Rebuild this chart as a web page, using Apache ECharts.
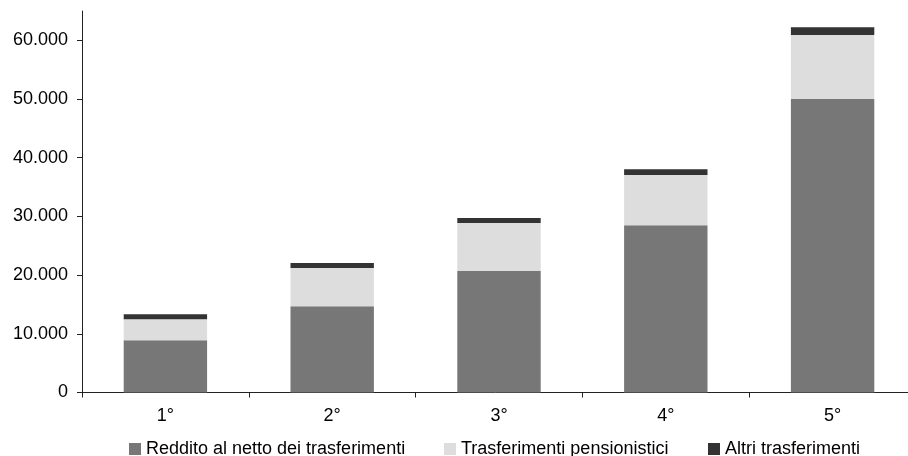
<!DOCTYPE html>
<html>
<head>
<meta charset="utf-8">
<script src="https://cdn.jsdelivr.net/npm/echarts@6/dist/echarts.min.js"></script>
<style>
html,body{margin:0;padding:0;background:#fff;}
#chart{width:908px;height:456px;}
</style>
</head>
<body>
<div id="chart"></div>
<script>
const categories = ['1°', '2°', '3°', '4°', '5°'];
const seriesNames = ['Reddito al netto dei trasferimenti', 'Trasferimenti pensionistici', 'Altri trasferimenti'];
const reddito = [8900, 14700, 20700, 28500, 50000];
const pensioni = [3600, 6500, 8200, 8550, 10900];
const altri = [850, 850, 850, 1000, 1350];
const yTicks = [0, 10000, 20000, 30000, 40000, 50000, 60000];
const colors = ['#777777', '#dddddd', '#333333'];

const FONT = '"Liberation Sans", Arial, sans-serif';
function fmt(v) { return String(v).replace(/\B(?=(\d{3})+(?!\d))/g, '.'); }

const chart = echarts.init(document.getElementById('chart'), null, { renderer: 'canvas' });
const legendLefts = [124, 439, 703];
chart.setOption({
  animation: false,
  backgroundColor: '#ffffff',
  color: colors,
  grid: { left: 82, width: 834, top: 11, height: 381.5, containLabel: false, outerBoundsMode: 'none' },
  legend: seriesNames.map((n, i) => ({
    data: [n],
    left: legendLefts[i],
    top: 435,
    itemWidth: 12,
    itemHeight: 12,
    icon: 'rect',
    textStyle: { fontFamily: FONT, fontSize: 18, color: '#000' },
    selectedMode: false
  })),
  xAxis: {
    type: 'category',
    data: categories,
    boundaryGap: true,
    axisLine: { lineStyle: { color: '#222', width: 1 } },
    axisTick: { show: true, length: 5, lineStyle: { color: '#222' } },
    axisLabel: { fontFamily: FONT, fontSize: 18, color: '#000', margin: 15 },
    splitLine: { show: false }
  },
  yAxis: {
    type: 'value',
    min: 0,
    max: 65000,
    interval: 10000,
    axisLine: { show: true, lineStyle: { color: '#222', width: 1 } },
    axisTick: { show: true, length: 5, inside: false, customValues: yTicks, lineStyle: { color: '#222' } },
    axisLabel: { fontFamily: FONT, fontSize: 18, color: '#000', margin: 14, customValues: yTicks, formatter: fmt },
    splitLine: { show: false }
  },
  series: [
    { name: seriesNames[0], type: 'bar', stack: 'tot', data: reddito, barWidth: '50%', itemStyle: { color: colors[0] } },
    { name: seriesNames[1], type: 'bar', stack: 'tot', data: pensioni, barWidth: '50%', itemStyle: { color: colors[1] } },
    { name: seriesNames[2], type: 'bar', stack: 'tot', data: altri, barWidth: '50%', itemStyle: { color: colors[2] } }
  ]
});
</script>
</body>
</html>
